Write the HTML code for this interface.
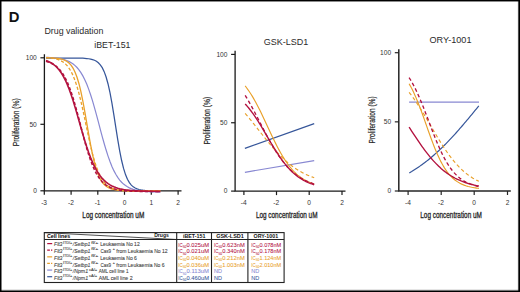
<!DOCTYPE html>
<html><head><meta charset="utf-8"><style>
html,body{margin:0;padding:0;background:#fff;}
body{width:520px;height:292px;overflow:hidden;}
svg{display:block;font-family:"Liberation Sans",sans-serif;}
</style></head><body>
<svg width="520" height="292" viewBox="0 0 520 292">
<rect width="520" height="292" fill="#fff"/>
<rect x="0" y="0" width="520" height="1" fill="#000"/><rect x="0" y="1" width="520" height="1" fill="#000" opacity="0.45"/>
<rect x="0" y="0" width="1" height="292" fill="#000"/><rect x="1" y="0" width="1" height="292" fill="#000" opacity="0.5"/>
<rect x="519" y="0" width="1" height="292" fill="#000"/><rect x="518" y="0" width="1" height="292" fill="#000" opacity="0.7"/><rect x="517" y="0" width="1" height="292" fill="#000" opacity="0.06"/>
<rect x="0" y="291" width="520" height="1" fill="#000"/><rect x="0" y="290" width="520" height="1" fill="#000" opacity="0.55"/><rect x="0" y="289" width="520" height="1" fill="#000" opacity="0.1"/>
<text x="8.7" y="21.9" font-size="14.8" font-weight="bold" fill="#111">D</text>
<text x="44.4" y="33.8" font-size="8.8" textLength="59" lengthAdjust="spacingAndGlyphs" fill="#2a2a2a">Drug validation</text>
<text x="94.3" y="47.9" font-size="8.9" textLength="36.2" lengthAdjust="spacingAndGlyphs" fill="#2a2a2a">iBET-151</text>
<text x="263.8" y="44.9" font-size="9.2" textLength="44.5" lengthAdjust="spacingAndGlyphs" fill="#2a2a2a">GSK-LSD1</text>
<text x="429.5" y="42.8" font-size="8.6" textLength="42" lengthAdjust="spacingAndGlyphs" fill="#2a2a2a">ORY-1001</text>
<path d="M44.4,54.3V190.8H181.5" stroke="#1a1a1a" stroke-width="1.3" fill="none"/>
<path d="M40.4,57.8H44.4" stroke="#1a1a1a" stroke-width="1.2"/>
<text x="36.8" y="60.099999999999994" font-size="6.6" text-anchor="end" fill="#333">100</text>
<path d="M40.4,124.3H44.4" stroke="#1a1a1a" stroke-width="1.2"/>
<text x="36.8" y="126.6" font-size="6.6" text-anchor="end" fill="#333">50</text>
<path d="M40.4,190.8H44.4" stroke="#1a1a1a" stroke-width="1.2"/>
<text x="36.8" y="193.10000000000002" font-size="6.6" text-anchor="end" fill="#333">0</text>
<path d="M44.3,190.8V194.8" stroke="#1a1a1a" stroke-width="1.2"/>
<text x="44.099999999999994" y="204.8" font-size="6.6" text-anchor="middle" fill="#333">-3</text>
<path d="M71.1,190.8V194.8" stroke="#1a1a1a" stroke-width="1.2"/>
<text x="70.89999999999999" y="204.8" font-size="6.6" text-anchor="middle" fill="#333">-2</text>
<path d="M97.8,190.8V194.8" stroke="#1a1a1a" stroke-width="1.2"/>
<text x="97.6" y="204.8" font-size="6.6" text-anchor="middle" fill="#333">-1</text>
<path d="M124.5,190.8V194.8" stroke="#1a1a1a" stroke-width="1.2"/>
<text x="124.5" y="204.8" font-size="6.6" text-anchor="middle" fill="#333">0</text>
<path d="M151.3,190.8V194.8" stroke="#1a1a1a" stroke-width="1.2"/>
<text x="151.3" y="204.8" font-size="6.6" text-anchor="middle" fill="#333">1</text>
<path d="M178.1,190.8V194.8" stroke="#1a1a1a" stroke-width="1.2"/>
<text x="178.1" y="204.8" font-size="6.6" text-anchor="middle" fill="#333">2</text>
<text transform="translate(18.6,122.35000000000001) rotate(-90)" x="0" y="0" text-anchor="middle" font-size="8.6" fill="#2a2a2a" stroke="#2a2a2a" stroke-width="0.22" textLength="47.900000000000006" lengthAdjust="spacingAndGlyphs">Proliferation (%)</text>
<text x="82.3" y="217.8" font-size="8.8" textLength="62.000000000000014" lengthAdjust="spacingAndGlyphs" fill="#262626" stroke="#262626" stroke-width="0.3">Log concentration uM</text>
<path d="M235.1,50.8V191.1H345.5" stroke="#1a1a1a" stroke-width="1.3" fill="none"/>
<path d="M231.1,54.4H235.1" stroke="#1a1a1a" stroke-width="1.2"/>
<text x="227.4" y="56.699999999999996" font-size="6.6" text-anchor="end" fill="#333">100</text>
<path d="M231.1,122.75H235.1" stroke="#1a1a1a" stroke-width="1.2"/>
<text x="227.4" y="125.05" font-size="6.6" text-anchor="end" fill="#333">50</text>
<path d="M231.1,191.1H235.1" stroke="#1a1a1a" stroke-width="1.2"/>
<text x="227.4" y="193.4" font-size="6.6" text-anchor="end" fill="#333">0</text>
<path d="M243.9,191.1V195.1" stroke="#1a1a1a" stroke-width="1.2"/>
<text x="243.70000000000002" y="204.8" font-size="6.6" text-anchor="middle" fill="#333">-4</text>
<path d="M276.5,191.1V195.1" stroke="#1a1a1a" stroke-width="1.2"/>
<text x="276.3" y="204.8" font-size="6.6" text-anchor="middle" fill="#333">-2</text>
<path d="M309.2,191.1V195.1" stroke="#1a1a1a" stroke-width="1.2"/>
<text x="309.2" y="204.8" font-size="6.6" text-anchor="middle" fill="#333">0</text>
<path d="M342.0,191.1V195.1" stroke="#1a1a1a" stroke-width="1.2"/>
<text x="342.0" y="204.8" font-size="6.6" text-anchor="middle" fill="#333">2</text>
<text transform="translate(210.0,120.75) rotate(-90)" x="0" y="0" text-anchor="middle" font-size="8.6" fill="#2a2a2a" stroke="#2a2a2a" stroke-width="0.22" textLength="47.69999999999999" lengthAdjust="spacingAndGlyphs">Proliferation (%)</text>
<text x="255.9" y="217.8" font-size="8.8" textLength="61.60000000000001" lengthAdjust="spacingAndGlyphs" fill="#262626" stroke="#262626" stroke-width="0.3">Log concentration uM</text>
<path d="M398.8,49.2V191.0H510.8" stroke="#262626" stroke-width="1.5" fill="none"/>
<path d="M394.8,52.7H398.8" stroke="#262626" stroke-width="1.2"/>
<text x="391.1" y="55.0" font-size="6.6" text-anchor="end" fill="#333">100</text>
<path d="M394.8,121.85H398.8" stroke="#262626" stroke-width="1.2"/>
<text x="391.1" y="124.14999999999999" font-size="6.6" text-anchor="end" fill="#333">50</text>
<path d="M394.8,191.0H398.8" stroke="#262626" stroke-width="1.2"/>
<text x="391.1" y="193.3" font-size="6.6" text-anchor="end" fill="#333">0</text>
<path d="M408.1,191.0V195.0" stroke="#262626" stroke-width="1.2"/>
<text x="407.90000000000003" y="204.8" font-size="6.6" text-anchor="middle" fill="#333">-4</text>
<path d="M441.2,191.0V195.0" stroke="#262626" stroke-width="1.2"/>
<text x="441.0" y="204.8" font-size="6.6" text-anchor="middle" fill="#333">-2</text>
<path d="M474.2,191.0V195.0" stroke="#262626" stroke-width="1.2"/>
<text x="474.2" y="204.8" font-size="6.6" text-anchor="middle" fill="#333">0</text>
<path d="M507.5,191.0V195.0" stroke="#262626" stroke-width="1.2"/>
<text x="507.5" y="204.8" font-size="6.6" text-anchor="middle" fill="#333">2</text>
<text transform="translate(374.6,119.95) rotate(-90)" x="0" y="0" text-anchor="middle" font-size="8.6" fill="#2a2a2a" stroke="#2a2a2a" stroke-width="0.22" textLength="47.099999999999994" lengthAdjust="spacingAndGlyphs">Proliferation (%)</text>
<text x="420.3" y="217.8" font-size="8.8" textLength="61.59999999999998" lengthAdjust="spacingAndGlyphs" fill="#262626" stroke="#262626" stroke-width="0.3">Log concentration uM</text>
<path d="M46.00,58.00 L47.94,58.00 L49.88,58.00 L51.82,58.00 L53.76,58.00 L55.69,58.00 L57.63,58.00 L59.57,58.00 L61.51,58.00 L63.45,58.01 L65.39,58.01 L67.33,58.01 L69.27,58.02 L71.21,58.03 L73.15,58.04 L75.08,58.05 L77.02,58.08 L78.96,58.11 L80.90,58.17 L82.84,58.24 L84.78,58.35 L86.72,58.51 L88.66,58.75 L90.60,59.08 L92.54,59.57 L94.47,60.28 L96.41,61.29 L98.35,62.75 L100.29,64.80 L102.23,67.68 L104.17,71.65 L106.11,76.99 L108.05,83.97 L109.99,92.72 L111.93,103.19 L113.86,114.97 L115.80,127.40 L117.74,139.62 L119.68,150.84 L121.62,160.52 L123.56,168.42 L125.50,174.58 L127.44,179.23 L129.38,182.64 L131.32,185.10 L133.25,186.84 L135.19,188.07 L137.13,188.92 L139.07,189.51 L141.01,189.92 L142.95,190.21 L144.89,190.40 L146.83,190.54 L148.77,190.63 L150.71,190.69 L152.64,190.73 L154.58,190.76 L156.52,190.78 L158.46,190.80 L160.40,190.81" stroke="#36569a" stroke-width="1.25" fill="none"/>
<path d="M46.00,57.35 L47.94,57.44 L49.88,57.54 L51.82,57.67 L53.76,57.83 L55.69,58.04 L57.63,58.28 L59.57,58.59 L61.51,58.97 L63.45,59.45 L65.39,60.03 L67.33,60.74 L69.27,61.62 L71.21,62.70 L73.15,64.01 L75.08,65.60 L77.02,67.53 L78.96,69.85 L80.90,72.61 L82.84,75.87 L84.78,79.69 L86.72,84.10 L88.66,89.12 L90.60,94.75 L92.54,100.94 L94.47,107.62 L96.41,114.67 L98.35,121.96 L100.29,129.30 L102.23,136.54 L104.17,143.50 L106.11,150.05 L108.05,156.09 L109.99,161.55 L111.93,166.40 L113.86,170.64 L115.80,174.30 L117.74,177.41 L119.68,180.05 L121.62,182.25 L123.56,184.08 L125.50,185.59 L127.44,186.83 L129.38,187.84 L131.32,188.67 L133.25,189.35 L135.19,189.90 L137.13,190.34 L139.07,190.70 L141.01,190.99 L142.95,191.23 L144.89,191.42 L146.83,191.57 L148.77,191.69 L150.71,191.79 L152.64,191.87 L154.58,191.93 L156.52,191.99 L158.46,192.03 L160.40,192.06" stroke="#8888d2" stroke-width="1.2" fill="none"/>
<path d="M46.00,57.55 L47.94,57.69 L49.88,57.87 L51.82,58.12 L53.76,58.44 L55.69,58.86 L57.63,59.42 L59.57,60.14 L61.51,61.08 L63.45,62.31 L65.39,63.89 L67.33,65.92 L69.27,68.49 L71.21,71.74 L73.15,75.76 L75.08,80.68 L77.02,86.56 L78.96,93.43 L80.90,101.22 L82.84,109.79 L84.78,118.88 L86.72,128.18 L88.66,137.32 L90.60,145.99 L92.54,153.92 L94.47,160.93 L96.41,166.97 L98.35,172.03 L100.29,176.19 L102.23,179.55 L104.17,182.22 L106.11,184.33 L108.05,185.97 L109.99,187.25 L111.93,188.23 L113.86,188.98 L115.80,189.56 L117.74,190.00 L119.68,190.34 L121.62,190.59 L123.56,190.79 L125.50,190.94 L127.44,191.05 L129.38,191.13 L131.32,191.20 L133.25,191.25 L135.19,191.28 L137.13,191.31 L139.07,191.33 L141.01,191.35 L142.95,191.36 L144.89,191.37 L146.83,191.38 L148.77,191.38 L150.71,191.39 L152.64,191.39 L154.58,191.39 L156.52,191.39 L158.46,191.40 L160.40,191.40" stroke="#e9a02a" stroke-width="1.3" fill="none" stroke-dasharray="3.2,2"/>
<path d="M46.00,57.79 L47.94,57.83 L49.88,57.89 L51.82,57.96 L53.76,58.07 L55.69,58.22 L57.63,58.44 L59.57,58.74 L61.51,59.16 L63.45,59.74 L65.39,60.56 L67.33,61.70 L69.27,63.27 L71.21,65.42 L73.15,68.32 L75.08,72.20 L77.02,77.26 L78.96,83.70 L80.90,91.63 L82.84,101.00 L84.78,111.54 L86.72,122.79 L88.66,134.12 L90.60,144.88 L92.54,154.56 L94.47,162.84 L96.41,169.63 L98.35,175.01 L100.29,179.15 L102.23,182.27 L104.17,184.58 L106.11,186.27 L108.05,187.50 L109.99,188.38 L111.93,189.02 L113.86,189.48 L115.80,189.80 L117.74,190.03 L119.68,190.20 L121.62,190.31 L123.56,190.40 L125.50,190.46 L127.44,190.50 L129.38,190.53 L131.32,190.55 L133.25,190.56 L135.19,190.57 L137.13,190.58 L139.07,190.59 L141.01,190.59 L142.95,190.59 L144.89,190.60 L146.83,190.60 L148.77,190.60 L150.71,190.60 L152.64,190.60 L154.58,190.60 L156.52,190.60 L158.46,190.60 L160.40,190.60" stroke="#e9a02a" stroke-width="1.3" fill="none"/>
<path d="M46.00,61.30 L47.94,61.87 L49.88,62.59 L51.82,63.47 L53.76,64.56 L55.69,65.90 L57.63,67.54 L59.57,69.55 L61.51,71.97 L63.45,74.87 L65.39,78.32 L67.33,82.36 L69.27,87.04 L71.21,92.38 L73.15,98.34 L75.08,104.88 L77.02,111.89 L78.96,119.22 L80.90,126.70 L82.84,134.15 L84.78,141.37 L86.72,148.21 L88.66,154.53 L90.60,160.25 L92.54,165.33 L94.47,169.76 L96.41,173.56 L98.35,176.79 L100.29,179.49 L102.23,181.74 L104.17,183.59 L106.11,185.11 L108.05,186.35 L109.99,187.35 L111.93,188.16 L113.86,188.82 L115.80,189.34 L117.74,189.77 L119.68,190.11 L121.62,190.38 L123.56,190.60 L125.50,190.77 L127.44,190.91 L129.38,191.02 L131.32,191.11 L133.25,191.18 L135.19,191.24 L137.13,191.28 L139.07,191.32 L141.01,191.35 L142.95,191.37 L144.89,191.39 L146.83,191.40 L148.77,191.41 L150.71,191.42 L152.64,191.43 L154.58,191.44 L156.52,191.44 L158.46,191.45 L160.40,191.45" stroke="#b3123f" stroke-width="1.6" fill="none" stroke-dasharray="3.2,2"/>
<path d="M46.00,60.56 L47.94,61.29 L49.88,62.18 L51.82,63.27 L53.76,64.61 L55.69,66.22 L57.63,68.17 L59.57,70.50 L61.51,73.26 L63.45,76.51 L65.39,80.29 L67.33,84.61 L69.27,89.51 L71.21,94.94 L73.15,100.87 L75.08,107.21 L77.02,113.85 L78.96,120.66 L80.90,127.49 L82.84,134.20 L84.78,140.66 L86.72,146.77 L88.66,152.43 L90.60,157.61 L92.54,162.27 L94.47,166.42 L96.41,170.07 L98.35,173.26 L100.29,176.01 L102.23,178.39 L104.17,180.42 L106.11,182.15 L108.05,183.62 L109.99,184.87 L111.93,185.92 L113.86,186.81 L115.80,187.55 L117.74,188.18 L119.68,188.71 L121.62,189.15 L123.56,189.52 L125.50,189.83 L127.44,190.09 L129.38,190.31 L131.32,190.49 L133.25,190.65 L135.19,190.77 L137.13,190.88 L139.07,190.97 L141.01,191.05 L142.95,191.11 L144.89,191.16 L146.83,191.20 L148.77,191.24 L150.71,191.27 L152.64,191.30 L154.58,191.32 L156.52,191.34 L158.46,191.35 L160.40,191.36" stroke="#b3123f" stroke-width="1.6" fill="none"/>
<path d="M244.9,148.3L314.2,123.7" stroke="#36569a" stroke-width="1.25" fill="none"/>
<path d="M244.9,172.3L314.2,160.6" stroke="#8888d2" stroke-width="1.2" fill="none"/>
<path d="M245.20,85.97 L246.37,87.48 L247.54,89.06 L248.71,90.72 L249.88,92.46 L251.05,94.28 L252.22,96.17 L253.39,98.14 L254.56,100.18 L255.73,102.29 L256.89,104.47 L258.06,106.71 L259.23,109.01 L260.40,111.36 L261.57,113.75 L262.74,116.19 L263.91,118.66 L265.08,121.15 L266.25,123.66 L267.42,126.18 L268.59,128.70 L269.76,131.21 L270.93,133.70 L272.10,136.17 L273.27,138.62 L274.44,141.02 L275.61,143.37 L276.78,145.68 L277.95,147.93 L279.12,150.12 L280.28,152.24 L281.45,154.29 L282.62,156.27 L283.79,158.17 L284.96,160.00 L286.13,161.75 L287.30,163.42 L288.47,165.01 L289.64,166.53 L290.81,167.97 L291.98,169.33 L293.15,170.62 L294.32,171.84 L295.49,172.99 L296.66,174.07 L297.83,175.08 L299.00,176.04 L300.17,176.93 L301.34,177.77 L302.51,178.56 L303.67,179.29 L304.84,179.98 L306.01,180.62 L307.18,181.21 L308.35,181.77 L309.52,182.28 L310.69,182.76 L311.86,183.21 L313.03,183.63 L314.20,184.01" stroke="#e9a02a" stroke-width="1.15" fill="none"/>
<path d="M245.20,113.43 L246.37,114.80 L247.54,116.18 L248.71,117.59 L249.88,119.01 L251.05,120.44 L252.22,121.89 L253.39,123.36 L254.56,124.83 L255.73,126.31 L256.89,127.79 L258.06,129.28 L259.23,130.78 L260.40,132.27 L261.57,133.75 L262.74,135.24 L263.91,136.71 L265.08,138.18 L266.25,139.64 L267.42,141.08 L268.59,142.51 L269.76,143.92 L270.93,145.31 L272.10,146.68 L273.27,148.03 L274.44,149.36 L275.61,150.67 L276.78,151.95 L277.95,153.20 L279.12,154.42 L280.28,155.62 L281.45,156.78 L282.62,157.92 L283.79,159.03 L284.96,160.11 L286.13,161.15 L287.30,162.17 L288.47,163.15 L289.64,164.11 L290.81,165.03 L291.98,165.92 L293.15,166.79 L294.32,167.62 L295.49,168.42 L296.66,169.20 L297.83,169.94 L299.00,170.66 L300.17,171.35 L301.34,172.01 L302.51,172.65 L303.67,173.26 L304.84,173.85 L306.01,174.41 L307.18,174.95 L308.35,175.46 L309.52,175.95 L310.69,176.43 L311.86,176.88 L313.03,177.31 L314.20,177.72" stroke="#e9a02a" stroke-width="1.15" fill="none" stroke-dasharray="3.6,2.6"/>
<path d="M245.20,95.38 L246.37,97.31 L247.54,99.29 L248.71,101.32 L249.88,103.39 L251.05,105.51 L252.22,107.65 L253.39,109.83 L254.56,112.04 L255.73,114.27 L256.89,116.52 L258.06,118.78 L259.23,121.05 L260.40,123.33 L261.57,125.60 L262.74,127.86 L263.91,130.12 L265.08,132.35 L266.25,134.56 L267.42,136.75 L268.59,138.90 L269.76,141.02 L270.93,143.09 L272.10,145.13 L273.27,147.11 L274.44,149.05 L275.61,150.94 L276.78,152.77 L277.95,154.55 L279.12,156.27 L280.28,157.94 L281.45,159.54 L282.62,161.08 L283.79,162.57 L284.96,164.00 L286.13,165.36 L287.30,166.67 L288.47,167.92 L289.64,169.12 L290.81,170.26 L291.98,171.35 L293.15,172.38 L294.32,173.36 L295.49,174.30 L296.66,175.18 L297.83,176.02 L299.00,176.82 L300.17,177.57 L301.34,178.28 L302.51,178.95 L303.67,179.59 L304.84,180.19 L306.01,180.75 L307.18,181.28 L308.35,181.79 L309.52,182.26 L310.69,182.70 L311.86,183.12 L313.03,183.52 L314.20,183.89" stroke="#b3123f" stroke-width="1.35" fill="none" stroke-dasharray="3.6,2.6"/>
<path d="M245.20,103.93 L246.37,105.23 L247.54,106.58 L248.71,108.00 L249.88,109.47 L251.05,110.99 L252.22,112.57 L253.39,114.21 L254.56,115.89 L255.73,117.63 L256.89,119.41 L258.06,121.23 L259.23,123.09 L260.40,124.99 L261.57,126.91 L262.74,128.87 L263.91,130.84 L265.08,132.83 L266.25,134.82 L267.42,136.82 L268.59,138.82 L269.76,140.81 L270.93,142.79 L272.10,144.76 L273.27,146.69 L274.44,148.60 L275.61,150.48 L276.78,152.32 L277.95,154.12 L279.12,155.88 L280.28,157.59 L281.45,159.24 L282.62,160.85 L283.79,162.40 L284.96,163.90 L286.13,165.34 L287.30,166.72 L288.47,168.04 L289.64,169.31 L290.81,170.52 L291.98,171.67 L293.15,172.77 L294.32,173.81 L295.49,174.80 L296.66,175.73 L297.83,176.62 L299.00,177.46 L300.17,178.25 L301.34,179.00 L302.51,179.70 L303.67,180.36 L304.84,180.98 L306.01,181.57 L307.18,182.11 L308.35,182.63 L309.52,183.11 L310.69,183.56 L311.86,183.98 L313.03,184.38 L314.20,184.75" stroke="#b3123f" stroke-width="1.35" fill="none"/>
<path d="M409.1,102.1L479.0,102.1" stroke="#8888d2" stroke-width="1.2" fill="none"/>
<path d="M409.30,172.93 L410.48,172.23 L411.66,171.53 L412.83,170.80 L414.01,170.06 L415.19,169.31 L416.37,168.54 L417.55,167.75 L418.72,166.94 L419.90,166.12 L421.08,165.29 L422.26,164.43 L423.44,163.56 L424.61,162.67 L425.79,161.77 L426.97,160.85 L428.15,159.91 L429.33,158.95 L430.50,157.98 L431.68,156.99 L432.86,155.98 L434.04,154.96 L435.22,153.92 L436.39,152.86 L437.57,151.79 L438.75,150.70 L439.93,149.59 L441.11,148.47 L442.28,147.33 L443.46,146.17 L444.64,145.00 L445.82,143.81 L446.99,142.61 L448.17,141.39 L449.35,140.16 L450.53,138.92 L451.71,137.66 L452.88,136.38 L454.06,135.09 L455.24,133.79 L456.42,132.48 L457.60,131.16 L458.77,129.82 L459.95,128.47 L461.13,127.12 L462.31,125.75 L463.49,124.37 L464.66,122.98 L465.84,121.59 L467.02,120.19 L468.20,118.78 L469.38,117.36 L470.55,115.94 L471.73,114.51 L472.91,113.08 L474.09,111.64 L475.27,110.20 L476.44,108.76 L477.62,107.32 L478.80,105.87" stroke="#36569a" stroke-width="1.2" fill="none"/>
<path d="M409.10,83.79 L410.28,85.84 L411.47,88.03 L412.65,90.35 L413.83,92.81 L415.02,95.40 L416.20,98.11 L417.38,100.94 L418.56,103.89 L419.75,106.94 L420.93,110.08 L422.11,113.29 L423.30,116.57 L424.48,119.89 L425.66,123.24 L426.85,126.60 L428.03,129.95 L429.21,133.28 L430.39,136.56 L431.58,139.78 L432.76,142.92 L433.94,145.98 L435.13,148.93 L436.31,151.77 L437.49,154.50 L438.68,157.09 L439.86,159.56 L441.04,161.89 L442.23,164.09 L443.41,166.16 L444.59,168.09 L445.77,169.89 L446.96,171.57 L448.14,173.12 L449.32,174.56 L450.51,175.89 L451.69,177.11 L452.87,178.24 L454.06,179.27 L455.24,180.22 L456.42,181.09 L457.61,181.88 L458.79,182.60 L459.97,183.26 L461.15,183.86 L462.34,184.40 L463.52,184.90 L464.70,185.35 L465.89,185.76 L467.07,186.13 L468.25,186.46 L469.44,186.76 L470.62,187.04 L471.80,187.29 L472.98,187.51 L474.17,187.72 L475.35,187.90 L476.53,188.07 L477.72,188.22 L478.90,188.35" stroke="#e9a02a" stroke-width="1.15" fill="none"/>
<path d="M409.10,92.37 L410.28,93.87 L411.47,95.42 L412.65,97.01 L413.83,98.65 L415.02,100.34 L416.20,102.06 L417.38,103.83 L418.56,105.64 L419.75,107.48 L420.93,109.36 L422.11,111.26 L423.30,113.20 L424.48,115.16 L425.66,117.13 L426.85,119.13 L428.03,121.14 L429.21,123.16 L430.39,125.18 L431.58,127.21 L432.76,129.24 L433.94,131.25 L435.13,133.26 L436.31,135.26 L437.49,137.23 L438.68,139.19 L439.86,141.12 L441.04,143.02 L442.23,144.89 L443.41,146.73 L444.59,148.53 L445.77,150.29 L446.96,152.01 L448.14,153.69 L449.32,155.32 L450.51,156.91 L451.69,158.45 L452.87,159.95 L454.06,161.39 L455.24,162.79 L456.42,164.14 L457.61,165.44 L458.79,166.69 L459.97,167.89 L461.15,169.04 L462.34,170.15 L463.52,171.21 L464.70,172.23 L465.89,173.20 L467.07,174.12 L468.25,175.01 L469.44,175.85 L470.62,176.66 L471.80,177.42 L472.98,178.15 L474.17,178.84 L475.35,179.50 L476.53,180.13 L477.72,180.72 L478.90,181.28" stroke="#e9a02a" stroke-width="1.15" fill="none" stroke-dasharray="3.6,2.6"/>
<path d="M409.10,77.61 L410.28,79.48 L411.47,81.47 L412.65,83.57 L413.83,85.78 L415.02,88.10 L416.20,90.53 L417.38,93.06 L418.56,95.69 L419.75,98.41 L420.93,101.22 L422.11,104.11 L423.30,107.07 L424.48,110.08 L425.66,113.15 L426.85,116.24 L428.03,119.36 L429.21,122.49 L430.39,125.61 L431.58,128.72 L432.76,131.79 L433.94,134.82 L435.13,137.80 L436.31,140.71 L437.49,143.54 L438.68,146.30 L439.86,148.96 L441.04,151.52 L442.23,153.98 L443.41,156.33 L444.59,158.57 L445.77,160.70 L446.96,162.73 L448.14,164.64 L449.32,166.44 L450.51,168.13 L451.69,169.72 L452.87,171.21 L454.06,172.60 L455.24,173.90 L456.42,175.11 L457.61,176.23 L458.79,177.28 L459.97,178.24 L461.15,179.14 L462.34,179.96 L463.52,180.73 L464.70,181.43 L465.89,182.08 L467.07,182.68 L468.25,183.23 L469.44,183.73 L470.62,184.20 L471.80,184.62 L472.98,185.01 L474.17,185.37 L475.35,185.70 L476.53,186.00 L477.72,186.28 L478.90,186.53" stroke="#b3123f" stroke-width="1.35" fill="none" stroke-dasharray="3.6,2.6"/>
<path d="M409.10,127.17 L410.28,128.98 L411.47,130.79 L412.65,132.60 L413.83,134.40 L415.02,136.19 L416.20,137.97 L417.38,139.73 L418.56,141.47 L419.75,143.19 L420.93,144.88 L422.11,146.55 L423.30,148.19 L424.48,149.80 L425.66,151.38 L426.85,152.92 L428.03,154.43 L429.21,155.90 L430.39,157.33 L431.58,158.72 L432.76,160.07 L433.94,161.38 L435.13,162.65 L436.31,163.88 L437.49,165.07 L438.68,166.22 L439.86,167.32 L441.04,168.39 L442.23,169.41 L443.41,170.40 L444.59,171.35 L445.77,172.25 L446.96,173.13 L448.14,173.96 L449.32,174.76 L450.51,175.52 L451.69,176.25 L452.87,176.95 L454.06,177.61 L455.24,178.25 L456.42,178.85 L457.61,179.43 L458.79,179.97 L459.97,180.49 L461.15,180.99 L462.34,181.46 L463.52,181.91 L464.70,182.34 L465.89,182.74 L467.07,183.12 L468.25,183.49 L469.44,183.83 L470.62,184.16 L471.80,184.47 L472.98,184.76 L474.17,185.04 L475.35,185.30 L476.53,185.55 L477.72,185.79 L478.90,186.01" stroke="#b3123f" stroke-width="1.35" fill="none"/>
<rect x="44.3" y="232.6" width="239.8" height="49.900000000000006" fill="none" stroke="#222" stroke-width="1.1"/>
<path d="M44.3,239.5H284.1" stroke="#222" stroke-width="1.1"/>
<path d="M176.7,232.6V282.5" stroke="#222" stroke-width="1.1"/>
<path d="M211.5,232.6V282.5" stroke="#222" stroke-width="1.1"/>
<path d="M247.9,232.6V282.5" stroke="#222" stroke-width="1.1"/>
<path d="M44.3,232.6L176.7,239.5" stroke="#222" stroke-width="0.8"/>
<text x="46.9" y="238.4" font-size="5.7" font-weight="bold" textLength="23.3" lengthAdjust="spacingAndGlyphs" fill="#000">Cell lines</text>
<text x="154.2" y="237.0" font-size="5.6" font-weight="bold" textLength="14.7" lengthAdjust="spacingAndGlyphs" fill="#111">Drugs</text>
<text x="183" y="237.7" font-size="5.6" font-weight="bold" textLength="22.4" lengthAdjust="spacingAndGlyphs" fill="#111">iBET-151</text>
<text x="216.2" y="237.7" font-size="5.6" font-weight="bold" textLength="27.6" lengthAdjust="spacingAndGlyphs" fill="#111">GSK-LSD1</text>
<text x="253.5" y="237.7" font-size="5.6" font-weight="bold" textLength="24.6" lengthAdjust="spacingAndGlyphs" fill="#111">ORY-1001</text>
<path d="M47.2,243.60H52.2" stroke="#b3123f" stroke-width="1.2"/>
<text x="54.1" y="246.40" font-size="5.6" font-style="italic" fill="#444" stroke="#444" stroke-width="0.1" textLength="8.30" lengthAdjust="spacingAndGlyphs">Flt3</text>
<text x="63.0" y="243.70" font-size="3.8" fill="#444" stroke="#444" stroke-width="0.1" textLength="9.30" lengthAdjust="spacingAndGlyphs">ITD/+</text>
<text x="72.8" y="246.40" font-size="5.6" font-style="italic" fill="#444" stroke="#444" stroke-width="0.1" textLength="17.50" lengthAdjust="spacingAndGlyphs">/Setbp1</text>
<text x="91.2" y="243.70" font-size="3.8" fill="#444" stroke="#444" stroke-width="0.1" textLength="7.10" lengthAdjust="spacingAndGlyphs">fl/+</text>
<text x="100.3" y="246.40" font-size="5.6" fill="#444" stroke="#444" stroke-width="0.1" textLength="39.40" lengthAdjust="spacingAndGlyphs">Leukaemia No 12</text>
<text x="178.2" y="246.70" font-size="5.1" fill="#b3123f" stroke="#b3123f" stroke-width="0.05" textLength="4.30" lengthAdjust="spacingAndGlyphs">IC</text>
<text x="182.7" y="248.10" font-size="3.5" fill="#b3123f" stroke="#b3123f" stroke-width="0.05" textLength="3.60" lengthAdjust="spacingAndGlyphs">50</text>
<text x="186.5" y="246.70" font-size="5.1" fill="#b3123f" stroke="#b3123f" stroke-width="0.05" textLength="22.50" lengthAdjust="spacingAndGlyphs">0.025uM</text>
<text x="214.0" y="246.70" font-size="5.1" fill="#b3123f" stroke="#b3123f" stroke-width="0.05" textLength="4.30" lengthAdjust="spacingAndGlyphs">IC</text>
<text x="218.5" y="248.10" font-size="3.5" fill="#b3123f" stroke="#b3123f" stroke-width="0.05" textLength="3.60" lengthAdjust="spacingAndGlyphs">50</text>
<text x="222.3" y="246.70" font-size="5.1" fill="#b3123f" stroke="#b3123f" stroke-width="0.05" textLength="22.40" lengthAdjust="spacingAndGlyphs">0.623nM</text>
<text x="251.2" y="246.70" font-size="5.1" fill="#b3123f" stroke="#b3123f" stroke-width="0.05" textLength="4.30" lengthAdjust="spacingAndGlyphs">IC</text>
<text x="255.7" y="248.10" font-size="3.5" fill="#b3123f" stroke="#b3123f" stroke-width="0.05" textLength="3.60" lengthAdjust="spacingAndGlyphs">50</text>
<text x="259.5" y="246.70" font-size="5.1" fill="#b3123f" stroke="#b3123f" stroke-width="0.05" textLength="21.70" lengthAdjust="spacingAndGlyphs">0.078nM</text>
<path d="M47.2,250.22H49.9M51.0,250.22H52.3" stroke="#b3123f" stroke-width="1.2"/>
<text x="54.1" y="253.12" font-size="5.6" font-style="italic" fill="#444" stroke="#444" stroke-width="0.1" textLength="8.30" lengthAdjust="spacingAndGlyphs">Flt3</text>
<text x="63.0" y="250.42" font-size="3.8" fill="#444" stroke="#444" stroke-width="0.1" textLength="9.30" lengthAdjust="spacingAndGlyphs">ITD/+</text>
<text x="72.8" y="253.12" font-size="5.6" font-style="italic" fill="#444" stroke="#444" stroke-width="0.1" textLength="17.50" lengthAdjust="spacingAndGlyphs">/Setbp1</text>
<text x="91.2" y="250.42" font-size="3.8" fill="#444" stroke="#444" stroke-width="0.1" textLength="7.10" lengthAdjust="spacingAndGlyphs">fl/+</text>
<text x="100.4" y="253.12" font-size="5.6" fill="#444" stroke="#444" stroke-width="0.1" textLength="10.60" lengthAdjust="spacingAndGlyphs">Cas9</text>
<text x="112.8" y="250.42" font-size="3.8" fill="#444" stroke="#444" stroke-width="0.1" textLength="2.10" lengthAdjust="spacingAndGlyphs">+</text>
<text x="116.3" y="253.12" font-size="5.6" fill="#444" stroke="#444" stroke-width="0.1" textLength="51.40" lengthAdjust="spacingAndGlyphs">from Leukaemia No 12</text>
<text x="178.2" y="253.32" font-size="5.1" fill="#b3123f" stroke="#b3123f" stroke-width="0.05" textLength="4.30" lengthAdjust="spacingAndGlyphs">IC</text>
<text x="182.7" y="254.72" font-size="3.5" fill="#b3123f" stroke="#b3123f" stroke-width="0.05" textLength="3.60" lengthAdjust="spacingAndGlyphs">50</text>
<text x="186.5" y="253.32" font-size="5.1" fill="#b3123f" stroke="#b3123f" stroke-width="0.05" textLength="22.50" lengthAdjust="spacingAndGlyphs">0.021uM</text>
<text x="214.0" y="253.32" font-size="5.1" fill="#b3123f" stroke="#b3123f" stroke-width="0.05" textLength="4.30" lengthAdjust="spacingAndGlyphs">IC</text>
<text x="218.5" y="254.72" font-size="3.5" fill="#b3123f" stroke="#b3123f" stroke-width="0.05" textLength="3.60" lengthAdjust="spacingAndGlyphs">50</text>
<text x="222.3" y="253.32" font-size="5.1" fill="#b3123f" stroke="#b3123f" stroke-width="0.05" textLength="22.40" lengthAdjust="spacingAndGlyphs">0.340nM</text>
<text x="251.2" y="253.32" font-size="5.1" fill="#b3123f" stroke="#b3123f" stroke-width="0.05" textLength="4.30" lengthAdjust="spacingAndGlyphs">IC</text>
<text x="255.7" y="254.72" font-size="3.5" fill="#b3123f" stroke="#b3123f" stroke-width="0.05" textLength="3.60" lengthAdjust="spacingAndGlyphs">50</text>
<text x="259.5" y="253.32" font-size="5.1" fill="#b3123f" stroke="#b3123f" stroke-width="0.05" textLength="21.70" lengthAdjust="spacingAndGlyphs">0.178nM</text>
<path d="M47.2,256.84H52.2" stroke="#e9a02a" stroke-width="1.2"/>
<text x="54.1" y="259.84" font-size="5.6" font-style="italic" fill="#444" stroke="#444" stroke-width="0.1" textLength="8.30" lengthAdjust="spacingAndGlyphs">Flt3</text>
<text x="63.0" y="257.14" font-size="3.8" fill="#444" stroke="#444" stroke-width="0.1" textLength="9.30" lengthAdjust="spacingAndGlyphs">ITD/+</text>
<text x="72.8" y="259.84" font-size="5.6" font-style="italic" fill="#444" stroke="#444" stroke-width="0.1" textLength="17.50" lengthAdjust="spacingAndGlyphs">/Setbp1</text>
<text x="91.2" y="257.14" font-size="3.8" fill="#444" stroke="#444" stroke-width="0.1" textLength="7.10" lengthAdjust="spacingAndGlyphs">fl/+</text>
<text x="100.3" y="259.84" font-size="5.6" fill="#444" stroke="#444" stroke-width="0.1" textLength="36.60" lengthAdjust="spacingAndGlyphs">Leukaemia No 6</text>
<text x="178.2" y="259.94" font-size="5.1" fill="#e9a02a" stroke="#e9a02a" stroke-width="0.05" textLength="4.30" lengthAdjust="spacingAndGlyphs">IC</text>
<text x="182.7" y="261.34" font-size="3.5" fill="#e9a02a" stroke="#e9a02a" stroke-width="0.05" textLength="3.60" lengthAdjust="spacingAndGlyphs">50</text>
<text x="186.5" y="259.94" font-size="5.1" fill="#e9a02a" stroke="#e9a02a" stroke-width="0.05" textLength="22.50" lengthAdjust="spacingAndGlyphs">0.040uM</text>
<text x="214.0" y="259.94" font-size="5.1" fill="#e9a02a" stroke="#e9a02a" stroke-width="0.05" textLength="4.30" lengthAdjust="spacingAndGlyphs">IC</text>
<text x="218.5" y="261.34" font-size="3.5" fill="#e9a02a" stroke="#e9a02a" stroke-width="0.05" textLength="3.60" lengthAdjust="spacingAndGlyphs">50</text>
<text x="222.3" y="259.94" font-size="5.1" fill="#e9a02a" stroke="#e9a02a" stroke-width="0.05" textLength="22.40" lengthAdjust="spacingAndGlyphs">0.212nM</text>
<text x="251.2" y="259.94" font-size="5.1" fill="#e9a02a" stroke="#e9a02a" stroke-width="0.05" textLength="4.30" lengthAdjust="spacingAndGlyphs">IC</text>
<text x="255.7" y="261.34" font-size="3.5" fill="#e9a02a" stroke="#e9a02a" stroke-width="0.05" textLength="3.60" lengthAdjust="spacingAndGlyphs">50</text>
<text x="259.5" y="259.94" font-size="5.1" fill="#e9a02a" stroke="#e9a02a" stroke-width="0.05" textLength="21.70" lengthAdjust="spacingAndGlyphs">1.124nM</text>
<path d="M47.2,263.46H49.9M51.0,263.46H52.3" stroke="#e9a02a" stroke-width="1.2"/>
<text x="54.1" y="266.56" font-size="5.6" font-style="italic" fill="#444" stroke="#444" stroke-width="0.1" textLength="8.30" lengthAdjust="spacingAndGlyphs">Flt3</text>
<text x="63.0" y="263.86" font-size="3.8" fill="#444" stroke="#444" stroke-width="0.1" textLength="9.30" lengthAdjust="spacingAndGlyphs">ITD/+</text>
<text x="72.8" y="266.56" font-size="5.6" font-style="italic" fill="#444" stroke="#444" stroke-width="0.1" textLength="17.50" lengthAdjust="spacingAndGlyphs">/Setbp1</text>
<text x="91.2" y="263.86" font-size="3.8" fill="#444" stroke="#444" stroke-width="0.1" textLength="7.10" lengthAdjust="spacingAndGlyphs">fl/+</text>
<text x="100.4" y="266.56" font-size="5.6" fill="#444" stroke="#444" stroke-width="0.1" textLength="10.60" lengthAdjust="spacingAndGlyphs">Cas9</text>
<text x="112.8" y="263.86" font-size="3.8" fill="#444" stroke="#444" stroke-width="0.1" textLength="2.10" lengthAdjust="spacingAndGlyphs">+</text>
<text x="116.3" y="266.56" font-size="5.6" fill="#444" stroke="#444" stroke-width="0.1" textLength="48.30" lengthAdjust="spacingAndGlyphs">from Leukaemia No 6</text>
<text x="178.2" y="266.56" font-size="5.1" fill="#e9a02a" stroke="#e9a02a" stroke-width="0.05" textLength="4.30" lengthAdjust="spacingAndGlyphs">IC</text>
<text x="182.7" y="267.96" font-size="3.5" fill="#e9a02a" stroke="#e9a02a" stroke-width="0.05" textLength="3.60" lengthAdjust="spacingAndGlyphs">50</text>
<text x="186.5" y="266.56" font-size="5.1" fill="#e9a02a" stroke="#e9a02a" stroke-width="0.05" textLength="22.50" lengthAdjust="spacingAndGlyphs">0.036uM</text>
<text x="214.0" y="266.56" font-size="5.1" fill="#e9a02a" stroke="#e9a02a" stroke-width="0.05" textLength="4.30" lengthAdjust="spacingAndGlyphs">IC</text>
<text x="218.5" y="267.96" font-size="3.5" fill="#e9a02a" stroke="#e9a02a" stroke-width="0.05" textLength="3.60" lengthAdjust="spacingAndGlyphs">50</text>
<text x="222.3" y="266.56" font-size="5.1" fill="#e9a02a" stroke="#e9a02a" stroke-width="0.05" textLength="22.40" lengthAdjust="spacingAndGlyphs">1.003nM</text>
<text x="251.2" y="266.56" font-size="5.1" fill="#e9a02a" stroke="#e9a02a" stroke-width="0.05" textLength="4.30" lengthAdjust="spacingAndGlyphs">IC</text>
<text x="255.7" y="267.96" font-size="3.5" fill="#e9a02a" stroke="#e9a02a" stroke-width="0.05" textLength="3.60" lengthAdjust="spacingAndGlyphs">50</text>
<text x="259.5" y="266.56" font-size="5.1" fill="#e9a02a" stroke="#e9a02a" stroke-width="0.05" textLength="21.70" lengthAdjust="spacingAndGlyphs">2.010nM</text>
<path d="M47.2,270.08H52.2" stroke="#8888d2" stroke-width="1.2"/>
<text x="54.1" y="273.28" font-size="5.6" font-style="italic" fill="#444" stroke="#444" stroke-width="0.1" textLength="8.30" lengthAdjust="spacingAndGlyphs">Flt3</text>
<text x="63.0" y="270.58" font-size="3.8" fill="#444" stroke="#444" stroke-width="0.1" textLength="9.30" lengthAdjust="spacingAndGlyphs">ITD/+</text>
<text x="72.7" y="273.28" font-size="5.6" font-style="italic" fill="#444" stroke="#444" stroke-width="0.1" textLength="15.40" lengthAdjust="spacingAndGlyphs">/Npm1</text>
<text x="89.0" y="270.58" font-size="3.8" fill="#444" stroke="#444" stroke-width="0.1" textLength="8.20" lengthAdjust="spacingAndGlyphs">cA/+</text>
<text x="98.7" y="273.28" font-size="5.6" fill="#444" stroke="#444" stroke-width="0.1" textLength="29.80" lengthAdjust="spacingAndGlyphs">AML cell line 1</text>
<text x="178.2" y="273.18" font-size="5.1" fill="#8888d2" stroke="#8888d2" stroke-width="0.05" textLength="4.30" lengthAdjust="spacingAndGlyphs">IC</text>
<text x="182.7" y="274.58" font-size="3.5" fill="#8888d2" stroke="#8888d2" stroke-width="0.05" textLength="3.60" lengthAdjust="spacingAndGlyphs">50</text>
<text x="186.5" y="273.18" font-size="5.1" fill="#8888d2" stroke="#8888d2" stroke-width="0.05" textLength="22.50" lengthAdjust="spacingAndGlyphs">0.113uM</text>
<text x="214.0" y="273.18" font-size="5.1" fill="#8888d2" stroke="#8888d2" stroke-width="0.05" textLength="8.00" lengthAdjust="spacingAndGlyphs">ND</text>
<text x="251.2" y="273.18" font-size="5.1" fill="#8888d2" stroke="#8888d2" stroke-width="0.05" textLength="8.00" lengthAdjust="spacingAndGlyphs">ND</text>
<path d="M47.2,276.70H52.2" stroke="#36569a" stroke-width="1.2"/>
<text x="54.1" y="280.00" font-size="5.6" font-style="italic" fill="#444" stroke="#444" stroke-width="0.1" textLength="8.30" lengthAdjust="spacingAndGlyphs">Flt3</text>
<text x="63.0" y="277.30" font-size="3.8" fill="#444" stroke="#444" stroke-width="0.1" textLength="9.30" lengthAdjust="spacingAndGlyphs">ITD/+</text>
<text x="72.7" y="280.00" font-size="5.6" font-style="italic" fill="#444" stroke="#444" stroke-width="0.1" textLength="15.40" lengthAdjust="spacingAndGlyphs">/Npm1</text>
<text x="89.0" y="277.30" font-size="3.8" fill="#444" stroke="#444" stroke-width="0.1" textLength="8.20" lengthAdjust="spacingAndGlyphs">cA/+</text>
<text x="98.7" y="280.00" font-size="5.6" fill="#444" stroke="#444" stroke-width="0.1" textLength="33.90" lengthAdjust="spacingAndGlyphs">AML cell line 2</text>
<text x="178.2" y="279.80" font-size="5.1" fill="#36569a" stroke="#36569a" stroke-width="0.05" textLength="4.30" lengthAdjust="spacingAndGlyphs">IC</text>
<text x="182.7" y="281.20" font-size="3.5" fill="#36569a" stroke="#36569a" stroke-width="0.05" textLength="3.60" lengthAdjust="spacingAndGlyphs">50</text>
<text x="186.5" y="279.80" font-size="5.1" fill="#36569a" stroke="#36569a" stroke-width="0.05" textLength="22.50" lengthAdjust="spacingAndGlyphs">0.460uM</text>
<text x="214.0" y="279.80" font-size="5.1" fill="#36569a" stroke="#36569a" stroke-width="0.05" textLength="8.00" lengthAdjust="spacingAndGlyphs">ND</text>
<text x="251.2" y="279.80" font-size="5.1" fill="#36569a" stroke="#36569a" stroke-width="0.05" textLength="8.00" lengthAdjust="spacingAndGlyphs">ND</text>
</svg>
</body></html>
